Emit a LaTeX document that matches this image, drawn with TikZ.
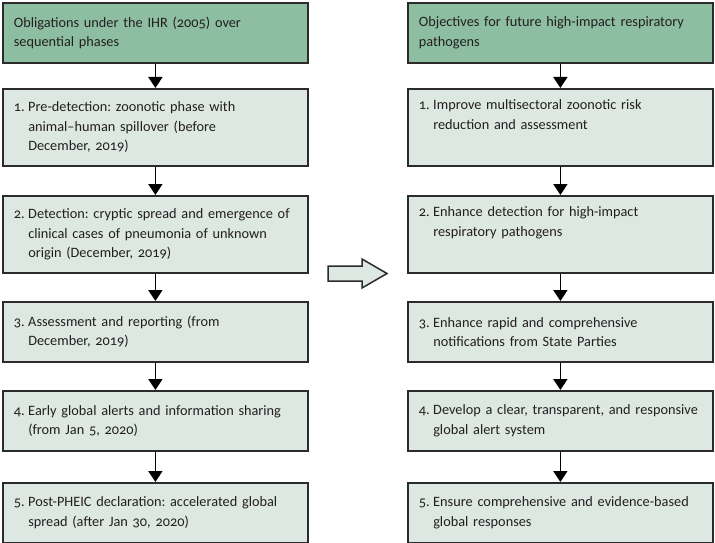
\documentclass[tikz,border=0pt]{standalone}
\usepackage{fontspec}
\setmainfont[Numbers=OldStyle]{Carlito}
\usetikzlibrary{arrows.meta}

\definecolor{headgreen}{HTML}{8DBEA2}
\definecolor{stagegreen}{HTML}{DCE8E1}
\definecolor{edgegray}{HTML}{2B2B2B}
\definecolor{inkgray}{HTML}{231F20}

\newlength\numwd
\newcommand\numbered[2]{\settowidth\numwd{#1\kern3.5pt}#1\kern3.5pt\parbox[t]{\dimexpr\linewidth-\numwd\relax}{\raggedright #2}}

\begin{document}
\begin{tikzpicture}[x=1pt, y=-1pt,
		box/.style={draw=edgegray, line width=1.8pt, anchor=north west, minimum width=305pt,
			text width=283pt, align=left, inner xsep=11pt, inner ysep=6pt,
			font=\fontsize{14.3}{19.5}\selectfont\frenchspacing, text=inkgray},
		head/.style={box, fill=headgreen, minimum height=60pt},
		stage/.style={box, fill=stagegreen, minimum height=#1},
		flow/.style={-{Triangle[width=14pt,length=11pt]}, line width=1.8pt, draw=black}]
	\useasboundingbox (0,0) rectangle (715,543);

	% obligations, left column
	\node[head] (h1) at (2,2) {Obligations under the IHR (2005) over\\ sequential phases};
	\node[stage=77pt] (s1) at (2,88) {\numbered{1.}{Pre-detection: zoonotic phase with\\ animal–human spillover (before\\ December, 2019)}};
	\node[stage=77pt] (s2) at (2,195) {\numbered{2.}{Detection: cryptic spread and emergence of\\ clinical cases of pneumonia of unknown\\ origin (December, 2019)}};
	\node[stage=60pt] (s3) at (2,301) {\numbered{3.}{Assessment and reporting (from\\ December, 2019)}};
	\node[stage=60pt] (s4) at (2,390) {\numbered{4.}{Early global alerts and information sharing\\ (from Jan 5, 2020)}};
	\node[stage=60pt] (s5) at (2,482) {\numbered{5.}{Post-PHEIC declaration: accelerated global\\ spread (after Jan 30, 2020)}};

	% objectives, right column
	\node[head] (h2) at (407,2) {Objectives for future high-impact respiratory\\ pathogens};
	\node[stage=77pt] (o1) at (407,88) {\numbered{1.}{Improve multisectoral zoonotic risk\\ reduction and assessment\\ \strut}};
	\node[stage=77pt] (o2) at (407,195) {\numbered{2.}{Enhance detection for high-impact\\ respiratory pathogens\\ \strut}};
	\node[stage=60pt] (o3) at (407,301) {\numbered{3.}{Enhance rapid and comprehensive\\ notifications from State Parties}};
	\node[stage=60pt] (o4) at (407,390) {\numbered{4.}{Develop a clear, transparent, and responsive\\ global alert system}};
	\node[stage=60pt] (o5) at (407,482) {\numbered{5.}{Ensure comprehensive and evidence-based\\ global responses}};

	\draw[flow] (h1) -- (s1);
	\draw[flow] (s1) -- (s2);
	\draw[flow] (s2) -- (s3);
	\draw[flow] (s3) -- (s4);
	\draw[flow] (s4) -- (s5);
	\draw[flow] (h2) -- (o1);
	\draw[flow] (o1) -- (o2);
	\draw[flow] (o2) -- (o3);
	\draw[flow] (o3) -- (o4);
	\draw[flow] (o4) -- (o5);

	% block arrow between columns
	\draw[draw=edgegray, fill=stagegreen, line width=1.5pt, line join=miter]
		(328,266) -- (362,266) -- (362,259) -- (387,273.5) -- (362,288) -- (362,281) -- (328,281) -- cycle;
\end{tikzpicture}
\end{document}
